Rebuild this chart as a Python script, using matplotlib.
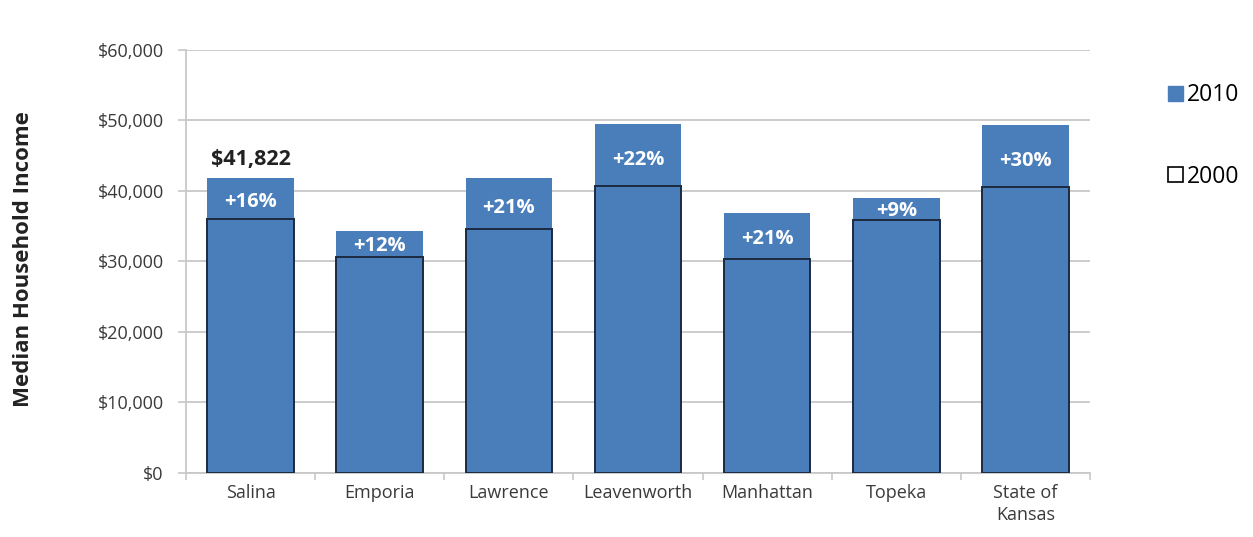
import matplotlib
matplotlib.use('Agg')

import matplotlib.pyplot as plt
import matplotlib.patches as patches
from matplotlib.ticker import FuncFormatter, MultipleLocator
import numpy as np

plt.rcParams['font.family'] = ['Open Sans', 'DejaVu Sans']

cities = ['Salina', 'Emporia', 'Lawrence', 'Leavenworth', 'Manhattan', 'Topeka', 'State of\nKansas']
income_2010 = [41822, 34300, 41800, 49500, 36900, 39000, 49400]
income_2000 = [36050, 30700, 34600, 40700, 30400, 35900, 40600]
change_labels = ['+16%', '+12%', '+21%', '+22%', '+21%', '+9%', '+30%']

BLUE = '#4a7ebb'
GRID = '#c8c8c8'
TEXT = '#3a3a3a'

fig = plt.figure(figsize=(12.53, 5.37), dpi=100)
ax = fig.add_axes([0.1484, 0.1192, 0.7216, 0.7877])

x = np.arange(len(cities))
width = 0.67

ax.bar(x, income_2010, width, color=BLUE, zorder=3)
ax.bar(x, income_2000, width, facecolor='none', edgecolor='#1a2a40', linewidth=1.4, zorder=4)

# percent change labels, sitting in the gap between the two years
for xi, v10, v00, lab in zip(x, income_2010, income_2000, change_labels):
    ax.text(xi, v00 + 0.42 * (v10 - v00), lab, ha='center', va='center', color='white',
            fontsize=14.5, fontweight='bold', zorder=5)

ax.text(x[0], income_2010[0] + 1100, f"${income_2010[0]:,}", ha='center', va='bottom',
        fontsize=15.5, fontweight='bold', color='#222222', zorder=5)

ax.set_xlim(-0.5, len(cities) - 0.5)
ax.set_ylim(0, 60000)
ax.yaxis.set_major_locator(MultipleLocator(10000))
ax.yaxis.set_major_formatter(FuncFormatter(lambda v, p: f"${int(v):,}"))
ax.yaxis.grid(True, color=GRID, linewidth=1.3, zorder=0)
ax.set_axisbelow(True)

ax.set_xticks(x)
ax.set_xticklabels(cities, fontsize=13, color=TEXT, linespacing=1.25)
ax.set_xticks(np.arange(-0.5, len(cities), 1), minor=True)
ax.tick_params(axis='x', which='major', length=0, pad=8)
ax.tick_params(axis='x', which='minor', length=5, color=GRID, width=1.2)
ax.tick_params(axis='y', length=6, color=GRID, width=1.2, labelsize=13, labelcolor=TEXT, pad=10)

for s in ['top', 'right']:
    ax.spines[s].set_visible(False)
for s in ['left', 'bottom']:
    ax.spines[s].set_color(GRID)
    ax.spines[s].set_linewidth(1.3)

ax.set_ylabel('Median Household Income', fontsize=16, fontweight='bold', color='#222222')
ax.yaxis.set_label_coords(-0.168, 0.505)

# Legend
legend_elements = [
    patches.Patch(facecolor=BLUE, edgecolor=BLUE, label='2010'),
    patches.Patch(facecolor='white', edgecolor='black', linewidth=1.2, label='2000'),
]
fig.legend(handles=legend_elements, loc='upper left', bbox_to_anchor=(0.932, 0.845),
           frameon=False, fontsize=16.5, handlelength=0.65, handleheight=0.65,
           handletextpad=0.2, labelspacing=2.5, borderaxespad=0, borderpad=0)

fig.savefig('out.png', dpi=100)
